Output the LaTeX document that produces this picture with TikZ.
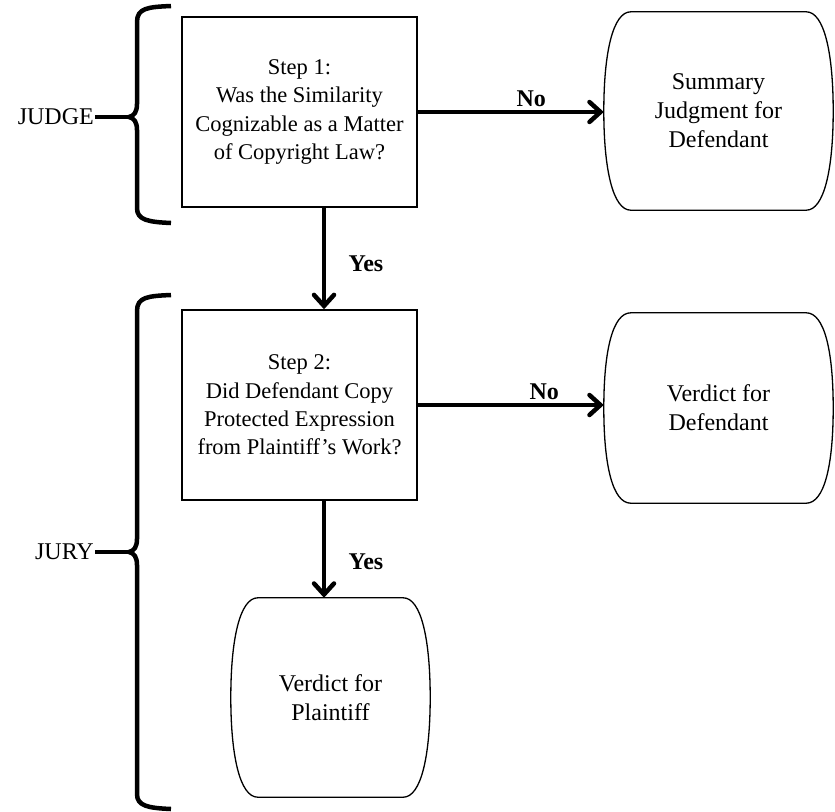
\documentclass[tikz,border=0pt]{standalone}
\usepackage{fontspec}
\setmainfont{Liberation Serif}
\usetikzlibrary{arrows.meta,calc}
\newcommand\termshape[1]{%
  \draw[termline] ($(#1.north west)+(27,0)$) -- ($(#1.north east)+(-27,0)$)
    .. controls ($(#1.north east)+(-9,0)$) and ($(#1.east)+(0,-58)$) .. (#1.east)
    .. controls ($(#1.east)+(0,58)$) and ($(#1.south east)+(-9,0)$) .. ($(#1.south east)+(-27,0)$)
    -- ($(#1.south west)+(27,0)$)
    .. controls ($(#1.south west)+(9,0)$) and ($(#1.west)+(0,58)$) .. (#1.west)
    .. controls ($(#1.west)+(0,-58)$) and ($(#1.north west)+(9,0)$) .. cycle;}
\begin{document}
\begin{tikzpicture}[x=1pt,y=-1pt,
  box/.style={draw, line width=1.5pt, minimum width=235pt, minimum height=190pt, align=center, inner sep=0pt, font=\fontsize{22.5}{28.3}\selectfont},
  term/.style={minimum width=229pt, align=center, inner sep=0pt, font=\fontsize{24}{29}\selectfont},
  termline/.style={line width=1.3pt},
  arr/.style={line width=4.5pt, -{Straight Barb[length=11pt,width=20pt,line cap=round]}},
  lbl/.style={font=\bfseries\fontsize{24}{28}\selectfont},
  side/.style={font=\fontsize{24}{28}\selectfont, anchor=east, inner sep=1pt},
  bracel/.style={line width=4.5pt}
]
\useasboundingbox (0,0) rectangle (835,811);

\node[box] (s1) at (299.5,112) {Step 1:\\Was the Similarity\\Cognizable as a Matter\\of Copyright Law?};
\node[box] (s2) at (299.5,405) {Step 2:\\Did Defendant Copy\\Protected Expression\\from Plaintiff’s Work?};
\node[term, minimum height=198pt] (t1) at (718.5,111) {Summary\\Judgment for\\Defendant};
\node[term, minimum height=190pt] (t2) at (718.5,408) {Verdict for\\Defendant};
\node[term, minimum width=199pt, minimum height=199pt] (t3) at (330.5,697.5) {Verdict for\\Plaintiff};
\termshape{t1}
\termshape{t2}
\termshape{t3}

\coordinate (ax) at (324,0);
\draw[arr] (s1.east) -- (s1.east -| t1.west) node[lbl, pos=0.61, above=0pt] {No};
\draw[arr] (s1.south -| ax) -- (s2.north -| ax) node[lbl, pos=0.55, right=19pt] {Yes};
\draw[arr] (s2.east) -- (s2.east -| t2.west) node[lbl, pos=0.68, above=0pt] {No};
\draw[arr] (s2.south -| ax) -- (t3.north -| ax) node[lbl, pos=0.63, right=19pt] {Yes};

\node[side] (judge) at (95,117) {JUDGE};
\node[side] (jury) at (95,552) {JURY};

\coordinate (jt) at (129,117);
\draw[bracel] (171,6) .. controls (148,7) and (137,8) .. (137,22) -- (137,104)
  .. controls (137,112) and (134,116) .. (jt)
  .. controls (134,118) and (137,122) .. (137,130) -- (137,208)
  .. controls (137,220) and (148,222) .. (171,223);
\draw[bracel] (jt) -- (judge.east);

\coordinate (rt) at (129,552);
\draw[bracel] (171,295) .. controls (148,296) and (137,297) .. (137,311) -- (137,539)
  .. controls (137,547) and (134,551) .. (rt)
  .. controls (134,553) and (137,557) .. (137,565) -- (137,794)
  .. controls (137,806) and (148,808) .. (171,809);
\draw[bracel] (rt) -- (jury.east);
\end{tikzpicture}
\end{document}
